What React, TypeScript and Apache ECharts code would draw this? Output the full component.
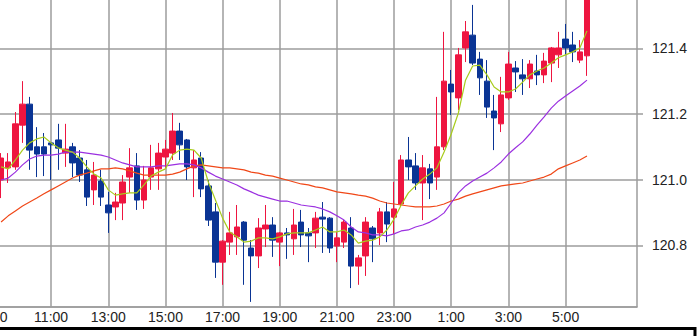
import { useEffect, useRef } from "react";
import * as echarts from "echarts";

// 15-minute slots from 8:45 to 7:30 next day
const START_MIN = 8 * 60 + 45;
const SLOTS = 92;
const times: string[] = Array.from({ length: SLOTS }, (_, i) => {
  const m = (START_MIN + i * 15) % 1440;
  return `${Math.floor(m / 60)}:${String(m % 60).padStart(2, "0")}`;
});
const LEAD = 2; // data starts at 9:15

const opens = [
  120.999, 121.036, 121.039, 121.166, 121.230, 121.100, 121.100,
  121.112, 121.121, 121.081, 121.100, 121.066, 121.030, 120.969, 120.996,
  120.923, 120.917, 120.929, 121.008, 121.042, 120.938, 121.008, 121.033,
  121.069, 121.081, 121.148, 121.121, 121.036, 121.066, 120.981, 120.902,
  120.749, 120.810, 120.826, 120.871, 120.792, 120.768, 120.850, 120.862,
  120.810, 120.838, 120.820, 120.871, 120.838, 120.838, 120.886, 120.883,
  120.798, 120.810, 120.853, 120.737, 120.768, 120.853, 120.838, 120.902,
  120.886, 120.926, 121.060, 121.042, 120.990, 121.033, 121.008, 121.100,
  121.291, 121.249, 121.401, 121.440, 121.367, 121.300, 121.209, 121.170,
  121.249, 121.340, 121.319, 121.307, 121.331, 121.319, 121.355, 121.380,
  121.428, 121.410, 121.364, 121.377,
];
const closes = [
  121.066, 121.054, 121.170, 121.230, 121.090, 121.078, 121.078,
  121.106, 121.096, 121.093, 121.051, 121.014, 120.947, 121.014, 120.947,
  120.899, 120.932, 120.993, 121.036, 120.938, 120.999, 121.036, 121.081,
  121.093, 121.148, 121.106, 121.039, 121.060, 120.972, 120.877, 120.749,
  120.813, 120.838, 120.856, 120.816, 120.768, 120.853, 120.862, 120.816,
  120.838, 120.832, 120.862, 120.832, 120.829, 120.883, 120.880, 120.792,
  120.823, 120.871, 120.737, 120.762, 120.871, 120.820, 120.902, 120.865,
  120.911, 121.060, 121.039, 120.990, 121.036, 120.990, 121.100, 121.300,
  121.267, 121.380, 121.450, 121.355, 121.310, 121.221, 121.188, 121.258,
  121.352, 121.328, 121.307, 121.352, 121.319, 121.361, 121.401, 121.401,
  121.401, 121.389, 121.389, 121.580,
];
const lows = [
  120.944, 120.990, 121.030, 121.112, 121.030, 121.008, 121.011,
  120.999, 121.030, 121.039, 121.008, 120.993, 120.920, 120.923, 120.920,
  120.838, 120.877, 120.877, 120.960, 120.908, 120.911, 120.969, 120.969,
  121.036, 121.060, 121.060, 120.999, 120.947, 120.947, 120.859, 120.701,
  120.680, 120.771, 120.771, 120.680, 120.628, 120.731, 120.795, 120.765,
  120.737, 120.759, 120.771, 120.795, 120.749, 120.792, 120.777, 120.777,
  120.749, 120.792, 120.670, 120.680, 120.707, 120.749, 120.801, 120.810,
  120.835, 120.917, 120.999, 120.969, 120.877, 120.941, 120.969, 121.090,
  121.197, 121.212, 121.358, 121.349, 121.258, 121.188, 121.090, 121.145,
  121.243, 121.267, 121.258, 121.279, 121.288, 121.294, 121.297, 121.340,
  121.380, 121.358, 121.355, 121.316,
];
const highs = [
  121.081, 121.081, 121.206, 121.300, 121.252, 121.160, 121.142,
  121.115, 121.170, 121.170, 121.112, 121.090, 121.060, 121.054, 121.030,
  120.963, 120.960, 121.014, 121.096, 121.081, 121.042, 121.106, 121.112,
  121.121, 121.203, 121.173, 121.124, 121.090, 121.084, 120.999, 120.929,
  120.816, 120.902, 120.923, 120.874, 120.816, 120.883, 120.923, 120.886,
  120.841, 120.853, 120.911, 120.908, 120.853, 120.902, 120.932, 120.886,
  120.841, 120.877, 120.886, 120.771, 120.886, 120.859, 120.914, 120.932,
  120.993, 121.075, 121.130, 121.081, 121.075, 121.048, 121.252, 121.450,
  121.334, 121.401, 121.483, 121.532, 121.389, 121.364, 121.258, 121.313,
  121.389, 121.361, 121.367, 121.364, 121.380, 121.386, 121.404, 121.450,
  121.474, 121.450, 121.425, 121.590,
];

const maShort = [
  121.039, 121.033, 121.060, 121.090, 121.112, 121.124, 121.130,
  121.112, 121.097, 121.090, 121.084, 121.066, 121.039, 121.017, 121.005,
  120.969, 120.953, 120.957, 120.960, 120.960, 120.984, 121.011, 121.023,
  121.033, 121.075, 121.090, 121.093, 121.090, 121.066, 120.993, 120.938,
  120.883, 120.841, 120.826, 120.810, 120.813, 120.823, 120.823, 120.820,
  120.826, 120.835, 120.838, 120.838, 120.838, 120.847, 120.856, 120.841,
  120.841, 120.847, 120.832, 120.807, 120.813, 120.816, 120.826, 120.847,
  120.880, 120.923, 120.960, 120.981, 121.002, 121.017, 121.036, 121.084,
  121.139, 121.203, 121.303, 121.346, 121.349, 121.319, 121.282, 121.267,
  121.267, 121.276, 121.297, 121.319, 121.331, 121.340, 121.355, 121.371,
  121.380, 121.389, 121.401, 121.453,
];
const maMid = [
  120.999, 121.005, 121.023, 121.045, 121.063, 121.072, 121.075,
  121.075, 121.078, 121.084, 121.084, 121.084, 121.081, 121.078, 121.075,
  121.069, 121.060, 121.051, 121.045, 121.039, 121.039, 121.039, 121.042,
  121.042, 121.045, 121.048, 121.048, 121.045, 121.036, 121.023, 121.011,
  121.002, 120.993, 120.984, 120.972, 120.963, 120.953, 120.947, 120.941,
  120.935, 120.935, 120.929, 120.923, 120.920, 120.917, 120.911, 120.902,
  120.890, 120.877, 120.856, 120.841, 120.838, 120.832, 120.832, 120.829,
  120.835, 120.844, 120.847, 120.856, 120.862, 120.871, 120.883, 120.899,
  120.929, 120.960, 120.981, 120.996, 121.008, 121.020, 121.036, 121.054,
  121.078, 121.097, 121.115, 121.139, 121.166, 121.191, 121.218, 121.239,
  121.255, 121.270, 121.285, 121.303,
];
const maLong = [
  120.871, 120.890, 120.905, 120.920, 120.932, 120.944, 120.957,
  120.969, 120.981, 120.993, 121.005, 121.014, 121.020, 121.027, 121.033,
  121.033, 121.036, 121.033, 121.027, 121.020, 121.014, 121.014, 121.014,
  121.014, 121.017, 121.023, 121.033, 121.042, 121.045, 121.042, 121.039,
  121.036, 121.036, 121.033, 121.030, 121.023, 121.020, 121.014, 121.011,
  121.005, 120.999, 120.993, 120.987, 120.984, 120.978, 120.975, 120.969,
  120.963, 120.960, 120.957, 120.953, 120.950, 120.944, 120.935, 120.929,
  120.926, 120.923, 120.920, 120.917, 120.917, 120.917, 120.920, 120.926,
  120.935, 120.941, 120.950, 120.957, 120.963, 120.969, 120.975, 120.981,
  120.984, 120.987, 120.990, 120.996, 121.002, 121.008, 121.017, 121.033,
  121.042, 121.051, 121.060, 121.072,
];

const UP = "#ee1540";
const DOWN = "#0a3494";
const GRID = "#9c9c9c";
const FONT = "Liberation Sans";

export default function App() {
  const ref = useRef<HTMLDivElement>(null);
  useEffect(() => {
    const chart = echarts.init(ref.current!, null, { renderer: "svg" });
    const pad = (arr: number[]) =>
      times.map((_, i) => {
        const k = i - LEAD;
        return k >= 0 && k < arr.length ? arr[k] : "-";
      });
    const candleData = times.map((_, i) => {
      const k = i - LEAD;
      return k >= 0 && k < opens.length
        ? [opens[k], closes[k], lows[k], highs[k]]
        : "-";
    });
    const shown = (index: number) =>
      index >= 1 && index <= 81 && (index - 1) % 8 === 0;
    const lineSeries = (data: number[], color: string) => ({
      type: "line",
      data: pad(data),
      symbol: "none",
      smooth: false,
      lineStyle: { color, width: 1.2 },
      z: 3,
    });
    chart.setOption({
      animation: false,
      grid: {
        left: -13.2,
        right: 63,
        top: -1,
        bottom: 29.3,
        containLabel: false,
        outerBoundsMode: "none",
      },
      xAxis: {
        type: "category",
        data: times,
        boundaryGap: false,
        axisLine: { lineStyle: { color: GRID, width: 1.5 } },
        axisTick: { show: false },
        axisLabel: {
          interval: (i: number) => shown(i),
          color: "#222",
          fontFamily: FONT,
          fontSize: 14,
          margin: 3,
        },
        splitLine: {
          show: true,
          interval: (i: number) => shown(i),
          lineStyle: { color: GRID, width: 1.5 },
        },
      },
      yAxis: {
        type: "value",
        position: "right",
        min: 120.6134,
        max: 121.55,
        splitNumber: 5,
        axisLine: { show: true, lineStyle: { color: GRID, width: 1.5 } },
        axisTick: { show: true, length: 6, lineStyle: { color: GRID, width: 1.5 } },
        axisLabel: {
          showMinLabel: false,
          showMaxLabel: false,
          formatter: (v: number) => v.toFixed(1),
          color: "#222",
          fontFamily: FONT,
          fontSize: 14,
          margin: 15,
        },
        splitLine: { show: true, lineStyle: { color: GRID, width: 1.5 } },
      },
      graphic: [
        {
          type: "rect",
          shape: { x: -5, y: 328.5, width: 700, height: 20 },
          style: { fill: "none", stroke: "#000", lineWidth: 3 },
        },
      ],
      series: [
        {
          type: "candlestick",
          data: candleData,
          barWidth: 6,
          itemStyle: {
            color: UP,
            color0: DOWN,
            borderColor: UP,
            borderColor0: DOWN,
            borderWidth: 1,
          },
          z: 2,
        },
        lineSeries(maLong, "#f04818"),
        lineSeries(maMid, "#9b30e0"),
        lineSeries(maShort, "#a8cc1c"),
      ],
    });
    return () => chart.dispose();
  }, []);
  return (
    <div
      ref={ref}
      style={{ position: "absolute", left: 0, top: 0, width: 700, height: 336 }}
    />
  );
}
